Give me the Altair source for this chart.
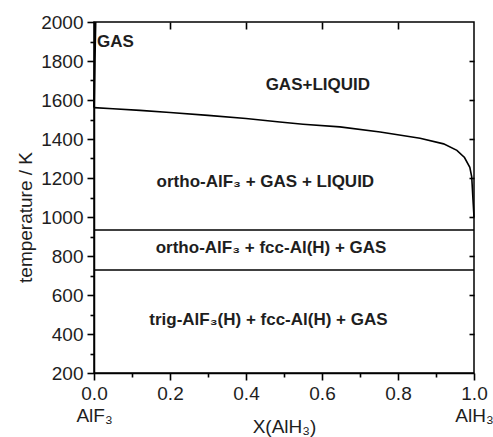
import altair as alt
import pandas as pd

# liquidus curve
curve_x = [0.0, 0.05, 0.121, 0.2, 0.3, 0.4, 0.489, 0.55, 0.647, 0.753, 0.858, 0.92, 0.955, 0.975, 0.989, 0.994, 0.997, 1.0]
curve_k = [1561, 1555, 1547, 1536, 1521, 1505, 1487, 1476, 1462, 1436, 1404, 1375, 1342, 1305, 1255, 1206, 1100, 1000]

# gas boundary near x = 0
gas_x = [0.004, 0.002, 0.0]
gas_k = [2000, 1800, 1561]

# invariant (horizontal) lines
iso_k = [933, 728]

# region labels
gas_label = ["GAS"]
gas_label_x = [0.008]
gas_label_k = [1896]

lab_text = ["GAS+LIQUID", "ortho-AlF\u2083 + GAS + LIQUID",
            "ortho-AlF\u2083 + fcc-Al(H) + GAS", "trig-AlF\u2083(H) + fcc-Al(H) + GAS"]
lab_x = [0.589, 0.451, 0.466, 0.459]
lab_k = [1675, 1178, 839, 470]

x_ticks = [0.0, 0.1, 0.2, 0.3, 0.4, 0.5, 0.6, 0.7, 0.8, 0.9, 1.0]
x_top_ticks = [0.2, 0.4, 0.6, 0.8]
y_ticks = list(range(200, 2001, 100))
y_right_ticks = [400, 600, 800, 1000, 1200, 1400, 1600, 1800]

FONT = "Liberation Sans, Arial, sans-serif"
TXT = "#1e1e1e"
TICK = "#000"

curve_df = pd.DataFrame({"x": curve_x, "k": curve_k})
gas_df = pd.DataFrame({"x": gas_x, "k": gas_k})
iso_df = pd.DataFrame({"k": iso_k})
gas_lab_df = pd.DataFrame({"x": gas_label_x, "k": gas_label_k, "t": gas_label})
lab_df = pd.DataFrame({"x": lab_x, "k": lab_k, "t": lab_text})

xs = alt.Scale(domain=[0, 1], nice=False, zero=False)
ys = alt.Scale(domain=[200, 2000], nice=False, zero=False)

x_bottom = alt.Axis(
    orient="bottom", values=x_ticks, title="X(AlH\u2083)",
    labelExpr="datum.value == 0 ? ['0.0', 'AlF\u2083'] : datum.value == 1 ? ['1.0', 'AlH\u2083'] : (round(datum.value*10) % 2 == 0 ? format(datum.value, '.1f') : '')",
    labelLineHeight=22, labelFontSize=19, labelFont=FONT, labelColor=TXT,
    labelPadding=4, labelFlush=False, labelOverlap=False,
    ticks=True,
    tickSize={"condition": {"test": "round(datum.value*10) % 2 == 1", "value": 4}, "value": 7},
    tickColor=TICK, tickWidth=1.6, domainColor="#000", domainWidth=1.5,
    titleFontSize=19, titleFont=FONT, titleColor=TXT, titleFontWeight="normal",
    titleY=44, titleBaseline="top", grid=False,
)
x_top = alt.Axis(orient="top", values=x_top_ticks, labels=False, domain=False, ticks=True,
                 tickSize=7, offset=-7, tickColor=TICK, tickWidth=1.6, title=None, grid=False)
y_left = alt.Axis(
    orient="left", values=y_ticks, title="temperature / K",
    labelExpr="datum.value % 200 == 0 ? format(datum.value, 'd') : ''",
    labelFontSize=19, labelFont=FONT, labelColor=TXT, labelPadding=4,
    labelFlush=False, labelOverlap=False, ticks=True,
    tickSize={"condition": {"test": "datum.value % 200 != 0", "value": 4}, "value": 7},
    tickColor=TICK, tickWidth=1.6, domainColor="#000", domainWidth=1.5,
    titleFontSize=19, titleFont=FONT, titleColor=TXT, titleFontWeight="normal",
    titleX=-69, titleY=195, titleBaseline="middle", titleAlign="center", grid=False,
)
y_right = alt.Axis(orient="right", values=y_right_ticks, labels=False, domain=False, ticks=True,
                   tickSize=5, offset=-5, tickColor=TICK, tickWidth=1.6, title=None, grid=False)

curve = alt.Chart(curve_df).mark_line(color="#000", strokeWidth=1.6).encode(
    x=alt.X("x:Q", scale=xs, axis=x_bottom),
    y=alt.Y("k:Q", scale=ys, axis=y_left),
    order="x:Q",
)
gas = alt.Chart(gas_df).mark_line(color="#000", strokeWidth=2).encode(
    x=alt.X("x:Q", scale=xs, axis=x_top),
    y=alt.Y("k:Q", scale=ys, axis=None),
)
iso = alt.Chart(iso_df).mark_rule(color="#000", strokeWidth=1.6).encode(
    y=alt.Y("k:Q", scale=ys, axis=y_right),
)
gas_lab = alt.Chart(gas_lab_df).mark_text(
    font=FONT, fontSize=17, fontWeight="bold", color=TXT, baseline="middle", align="left"
).encode(
    x=alt.X("x:Q", scale=xs, axis=None),
    y=alt.Y("k:Q", scale=ys, axis=None),
    text="t:N",
)
labels = alt.Chart(lab_df).mark_text(
    font=FONT, fontSize=17, fontWeight="bold", color=TXT, baseline="middle", align="center"
).encode(
    x=alt.X("x:Q", scale=xs, axis=None),
    y=alt.Y("k:Q", scale=ys, axis=None),
    text="t:N",
)

chart = alt.layer(curve, gas, iso, gas_lab, labels).resolve_axis(
    x="independent", y="independent"
).properties(
    width=380, height=351,
    autosize=alt.AutoSizeParams(type="none"),
    padding={"left": 94, "top": 22, "right": 19, "bottom": 64},
    background="white",
).configure_view(stroke="#000", strokeWidth=1.5)

chart.save("out.html", embed_options={"renderer": "svg", "actions": False})
